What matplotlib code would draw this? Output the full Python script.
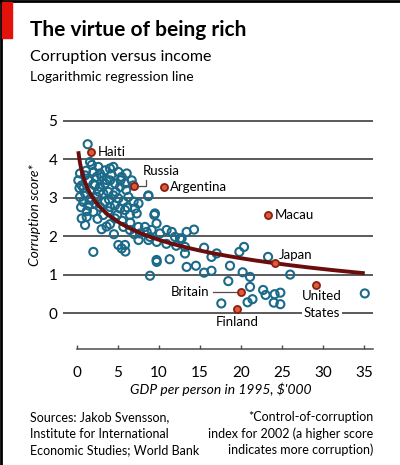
import matplotlib.pyplot as plt
import numpy as np
from matplotlib.patches import Rectangle
from matplotlib.lines import Line2D

plt.rcParams['font.family'] = ['Lato', 'DejaVu Sans']

# GDP per person ($'000) and corruption score
gdp = [
    1.30, 1.59, 0.37, 0.16, 0.57, 0.98, 1.38, 1.99, 2.40, 2.80, 3.41, 4.02, 4.43, 5.04, 5.45,
    6.06, 6.67, 6.87, 8.70, 5.85, 5.24, 4.63, 4.02, 3.41, 2.80, 2.20, 1.59, 0.98, 0.37, 0.77,
    1.38, 1.79, 2.40, 3.21, 3.82, 4.43, 5.04, 5.65, 6.26, 7.07, 7.28, 6.46, 5.85, 5.24, 4.63,
    4.02, 3.41, 2.80, 1.99, 1.18, 0.57, 0.98, 3.00, 4.02, 4.63, 5.65, 6.46, 7.48, 7.68, 8.29,
    8.90, 9.50, 9.10, 9.72, 10.12, 10.93, 1.99, 5.04, 5.45, 5.85, 9.72, 8.90,
    2.60, 3.00, 3.60, 4.20, 1.10, 1.80, 2.20, 3.80, 4.90, 5.50, 6.10, 6.90, 0.80, 1.50, 2.50,
    3.20, 0.50, 1.20, 6.50, 7.50, 2.70, 3.90, 0.30, 2.00, 4.70, 5.30, 6.00, 3.60, 7.00, 4.50, 5.90,
    8.70, 9.43, 9.70, 8.50, 11.55, 11.95, 12.56, 13.37, 14.27, 12.76, 13.17, 13.17, 13.37,
    14.50, 15.50, 16.40, 15.50, 16.40, 8.70, 7.50, 9.70, 12.10, 10.90, 11.30, 17.03,
    18.66, 18.45, 17.60, 19.80, 20.37, 20.20, 21.10, 21.10, 21.40, 20.80, 22.70, 23.00,
    23.30, 24.10, 24.80, 24.00, 24.80, 26.00, 35.10,
]
score = [
    4.39, 3.93, 3.63, 3.45, 3.32, 3.58, 3.45, 3.67, 3.54, 3.63, 3.71, 3.76, 3.80, 3.67, 3.54,
    3.63, 3.45, 3.32, 3.06, 3.37, 3.28, 3.37, 3.45, 3.37, 3.28, 3.32, 3.19, 3.11, 3.02, 2.89,
    2.80, 2.94, 3.02, 3.11, 3.15, 3.06, 2.98, 2.89, 3.02, 2.72, 2.59, 2.55, 2.68, 2.72, 2.80,
    2.76, 2.89, 2.76, 2.63, 2.50, 2.46, 2.29, 2.18, 2.31, 2.46, 2.24, 2.16, 2.24, 2.07, 2.24,
    1.98, 2.59, 2.16, 1.85, 2.07, 2.16, 1.59, 1.77, 1.68, 1.77, 1.33, 0.97,
    3.80, 3.54, 3.46, 3.60, 3.70, 3.85, 2.85, 2.65, 2.55, 2.40, 2.75, 2.90, 3.25, 2.95, 2.45,
    2.55, 2.75, 2.65, 2.35, 2.85, 3.15, 2.95, 3.25, 3.35, 3.15, 3.45, 3.20, 2.25, 2.05, 2.05, 1.60,
    3.04, 2.55, 2.33, 2.11, 2.11, 1.98, 1.94, 2.11, 2.17, 1.94, 1.72, 1.55, 1.20,
    1.23, 1.05, 1.10, 1.70, 1.46, 1.90, 1.90, 1.38, 1.75, 1.80, 1.40, 1.55,
    1.23, 0.83, 0.25, 1.59, 1.72, 1.06, 0.94, 0.68, 0.36, 0.28, 0.60, 0.47,
    1.46, 0.49, 0.53, 0.27, 0.23, 1.00, 0.51,
]

# highlighted countries
hl_names = ['Haiti', 'Russia', 'Argentina', 'Macau', 'Japan', 'Britain', 'Finland', 'United States']
hl_gdp = [1.67, 7.0, 10.6, 23.3, 24.1, 20.0, 19.5, 29.1]
hl_score = [4.19, 3.31, 3.27, 2.56, 1.31, 0.54, 0.10, 0.74]

# logarithmic regression line as printed: a + b*ln(x + c)
reg_a, reg_b, reg_c = 3.53, -0.70, 0.22
reg_range = (0.16, 35.1)

xticks = [0, 5, 10, 15, 20, 25, 30, 35]
yticks = [0, 1, 2, 3, 4, 5]

W, H = 400, 465
fig = plt.figure(figsize=(W / 100, H / 100), dpi=100)


def fx(px):
    return px / W


def fy(py):
    return 1 - py / H


ax = fig.add_axes([fx(63), fy(349), fx(373) - fx(63), fy(115) - fy(349)])
ax.set_xlim(-1.71, 36.1)
ax.set_ylim(-0.935, 5.15)

grid_col = '#4d4d4d'
blue = '#1c6a8a'
red_face = '#de5a3c'
red_edge = '#8a2010'

for v in yticks:
    ax.axhline(v, color=grid_col, lw=1.3, zorder=1)

ax.scatter(gdp, score, s=34, facecolors='none', edgecolors=blue, linewidths=1.5, zorder=3)

xs = np.linspace(reg_range[0], reg_range[1], 300)
ax.plot(xs, reg_a + reg_b * np.log(xs + reg_c), color='#6a0d0d', lw=2.8, zorder=4,
        solid_capstyle='butt')

ax.scatter(hl_gdp, hl_score, s=26, facecolors=red_face, edgecolors=red_edge, linewidths=1.3, zorder=5)

# labels for highlighted countries
fs = 9.5
ax.text(2.5, 4.19, 'Haiti', fontsize=fs, va='center', ha='left', zorder=6)
ax.plot([7.3, 8.4, 8.4], [3.31, 3.31, 3.45], color=grid_col, lw=0.9, zorder=4)
ax.text(10.3, 3.55, 'Russia', fontsize=fs, va='bottom', ha='center', zorder=6)
ax.text(11.3, 3.27, 'Argentina', fontsize=fs, va='center', ha='left', zorder=6)
ax.text(24.1, 2.56, 'Macau', fontsize=fs, va='center', ha='left', zorder=6)
ax.text(24.6, 1.50, 'Japan', fontsize=fs, va='center', ha='left', zorder=6)
ax.plot([16.6, 19.4], [0.54, 0.54], color=grid_col, lw=0.9, zorder=4)
ax.text(16.2, 0.54, 'Britain', fontsize=fs, va='center', ha='right', zorder=6)
ax.text(19.5, -0.23, 'Finland', fontsize=fs, va='center', ha='center', zorder=6)
ax.text(29.9, 0.44, 'United', fontsize=fs, va='center', ha='center', zorder=6)
ax.text(29.9, 0.0, 'States', fontsize=fs, va='center', ha='center', zorder=6,
        bbox=dict(facecolor='white', edgecolor='none', pad=1.5))

ax.set_xticks(xticks)
ax.set_xticklabels([str(t) for t in xticks], fontsize=11)
ax.set_yticks(yticks)
ax.set_yticklabels([str(t) for t in yticks], fontsize=11)
ax.tick_params(axis='y', length=0, pad=4)
ax.tick_params(axis='x', direction='in', length=3, width=1, color=grid_col, pad=12)
for side in ['top', 'right', 'left']:
    ax.spines[side].set_visible(False)
ax.spines['bottom'].set_color(grid_col)
ax.spines['bottom'].set_linewidth(1.1)
ax.spines['bottom'].set_bounds(0, 36.1)

# figure texts
fig.text(fx(30), fy(30), 'The virtue of being rich', fontsize=15, fontweight='bold', va='center')
fig.text(fx(30), fy(57), 'Corruption versus income', fontsize=11.5, va='center')
fig.text(fx(30), fy(77), 'Logarithmic regression line', fontsize=10, va='center')
fig.text(fx(35), fy(215), 'Corruption score*', fontsize=10, style='italic', rotation=90,
         va='center', ha='center')
fig.text(fx(221), fy(389), "GDP per person in 1995, $'000", fontsize=10, style='italic',
         va='center', ha='center')

sources = ['Sources: Jakob Svensson,', 'Institute for International', 'Economic Studies; World Bank']
notes = ['*Control-of-corruption', 'index for 2002 (a higher score', 'indicates more corruption)']
for i, (s, n) in enumerate(zip(sources, notes)):
    fig.text(fx(30), fy(417 + 16.5 * i), s, fontsize=9, va='center', ha='left')
    fig.text(fx(373), fy(417 + 16.5 * i), n, fontsize=9, va='center', ha='right')

# red tag and frame
fig.patches.append(Rectangle((fx(2), fy(38)), fx(12) - fx(2), fy(2) - fy(38),
                             transform=fig.transFigure, color='#e3120b', zorder=10))
fig.lines.append(Line2D([0, 1], [fy(1), fy(1)], transform=fig.transFigure, color='black', lw=2))
fig.lines.append(Line2D([fx(1), fx(1)], [0, 1], transform=fig.transFigure, color='black', lw=2))

fig.savefig('out.png', dpi=100)
